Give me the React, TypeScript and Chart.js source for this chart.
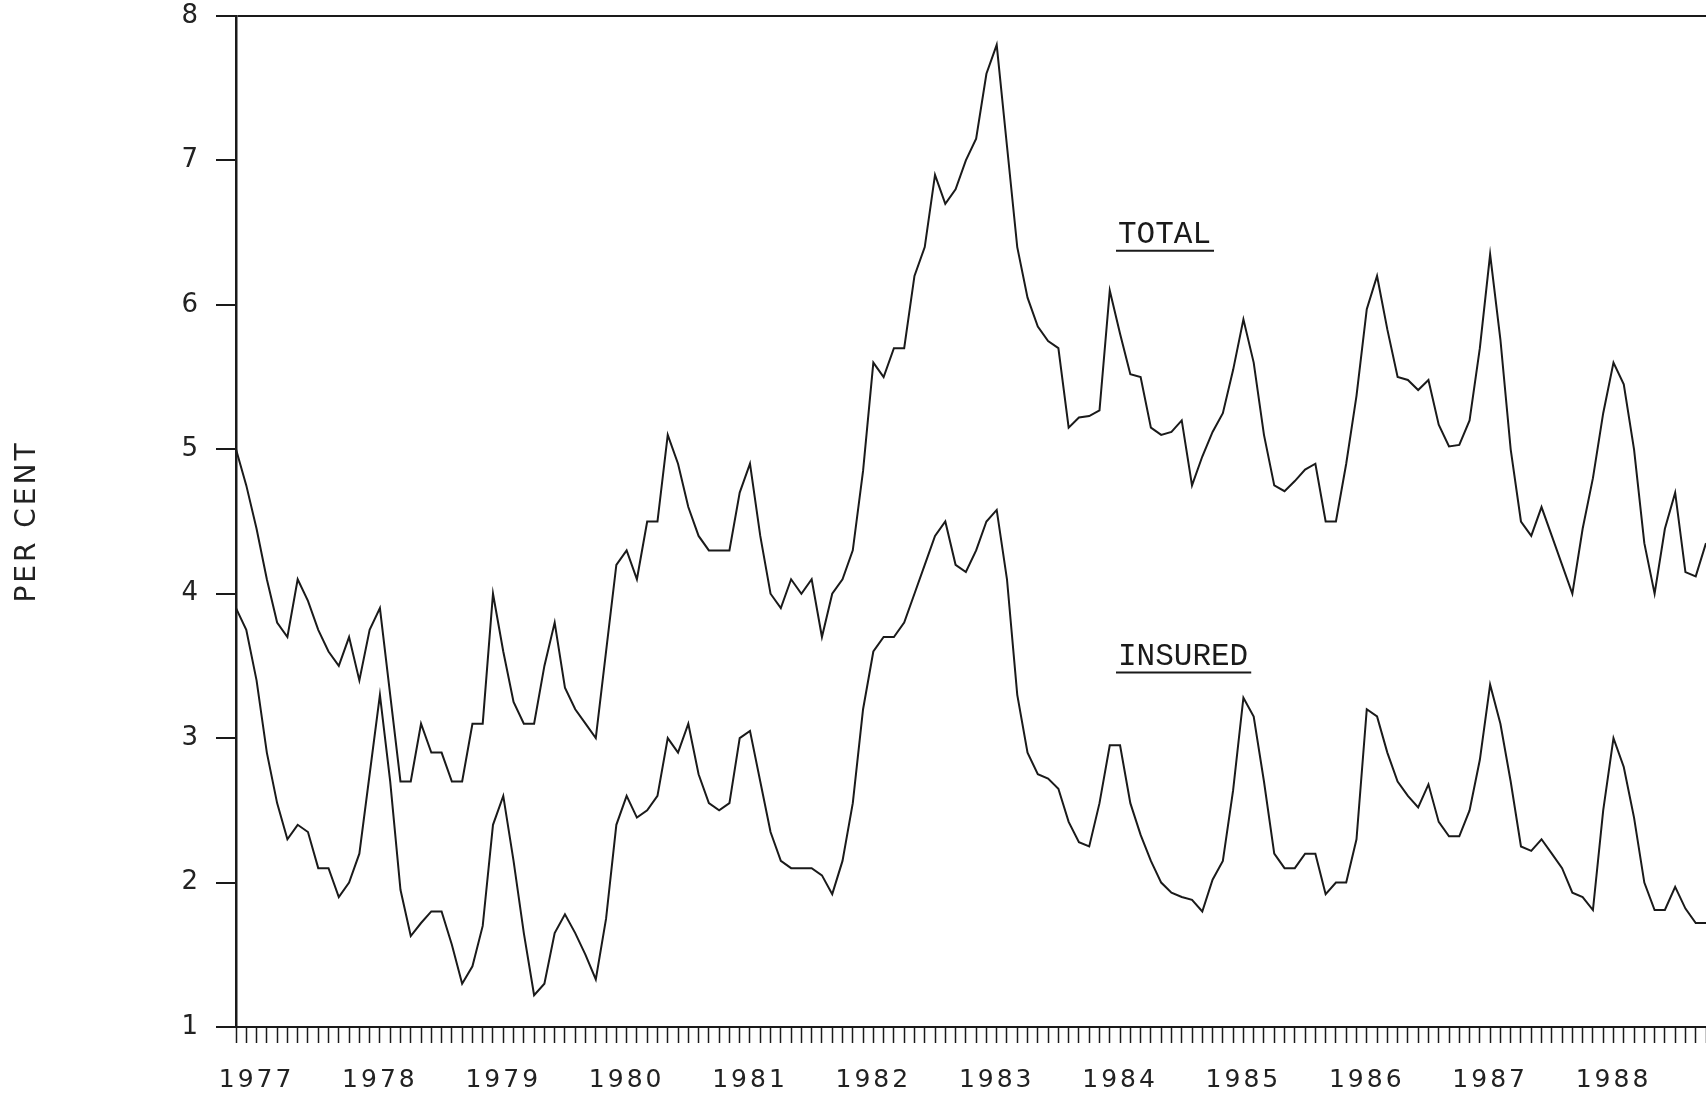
import React, { useEffect, useRef } from 'react';
import { Chart, registerables } from 'chart.js';

Chart.register(...registerables);

// ---- data (monthly, Jan 1977 – Dec 1988) ----
const years = ['1977', '1978', '1979', '1980', '1981', '1982', '1983', '1984', '1985', '1986', '1987', '1988'];
const monthNames = ['Jan', 'Feb', 'Mar', 'Apr', 'May', 'Jun', 'Jul', 'Aug', 'Sep', 'Oct', 'Nov', 'Dec'];
const monthLabels = years.flatMap((y) => monthNames.map((m) => `${m} ${y}`));

const totalRate = [
  5.0, 4.75, 4.45, 4.1, 3.8, 3.7, 4.1, 3.95, 3.75, 3.6, 3.5, 3.7,
  3.4, 3.75, 3.9, 3.3, 2.7, 2.7, 3.1, 2.9, 2.9, 2.7, 2.7, 3.1,
  3.1, 4.0, 3.6, 3.25, 3.1, 3.1, 3.5, 3.8, 3.35, 3.2, 3.1, 3.0,
  3.6, 4.2, 4.3, 4.1, 4.5, 4.5, 5.1, 4.9, 4.6, 4.4, 4.3, 4.3,
  4.3, 4.7, 4.9, 4.4, 4.0, 3.9, 4.1, 4.0, 4.1, 3.7, 4.0, 4.1,
  4.3, 4.85, 5.6, 5.5, 5.7, 5.7, 6.2, 6.4, 6.9, 6.7, 6.8, 7.0,
  7.15, 7.6, 7.8, 7.1, 6.4, 6.05, 5.85, 5.75, 5.7, 5.15, 5.22, 5.23,
  5.27, 6.1, 5.8, 5.52, 5.5, 5.15, 5.1, 5.12, 5.2, 4.75, 4.95, 5.12,
  5.25, 5.55, 5.9, 5.6, 5.1, 4.75, 4.71, 4.78, 4.86, 4.9, 4.5, 4.5,
  4.9, 5.37, 5.97, 6.2, 5.83, 5.5, 5.48, 5.41, 5.48, 5.17, 5.02, 5.03,
  5.2, 5.7, 6.35, 5.76, 5.0, 4.5, 4.4, 4.6, 4.4, 4.2, 4.0, 4.45,
  4.8, 5.25, 5.6, 5.45, 5.0, 4.35, 4.0, 4.45, 4.7, 4.15, 4.12, 4.35,
];

const insuredRate = [
  3.9, 3.75, 3.4, 2.9, 2.55, 2.3, 2.4, 2.35, 2.1, 2.1, 1.9, 2.0,
  2.2, 2.75, 3.3, 2.7, 1.95, 1.63, 1.72, 1.8, 1.8, 1.57, 1.3, 1.42,
  1.7, 2.4, 2.6, 2.15, 1.65, 1.22, 1.3, 1.65, 1.78, 1.65, 1.5, 1.33,
  1.75, 2.4, 2.6, 2.45, 2.5, 2.6, 3.0, 2.9, 3.1, 2.75, 2.55, 2.5,
  2.55, 3.0, 3.05, 2.7, 2.35, 2.15, 2.1, 2.1, 2.1, 2.05, 1.92, 2.15,
  2.55, 3.2, 3.6, 3.7, 3.7, 3.8, 4.0, 4.2, 4.4, 4.5, 4.2, 4.15,
  4.3, 4.5, 4.58, 4.1, 3.3, 2.9, 2.75, 2.72, 2.65, 2.42, 2.28, 2.25,
  2.55, 2.95, 2.95, 2.55, 2.33, 2.15, 2.0, 1.93, 1.9, 1.88, 1.8, 2.02,
  2.15, 2.64, 3.28, 3.15, 2.7, 2.2, 2.1, 2.1, 2.2, 2.2, 1.92, 2.0,
  2.0, 2.3, 3.2, 3.15, 2.9, 2.7, 2.6, 2.52, 2.68, 2.42, 2.32, 2.32,
  2.5, 2.85, 3.37, 3.1, 2.7, 2.25, 2.22, 2.3, 2.2, 2.1, 1.93, 1.9,
  1.81, 2.5, 3.0, 2.8, 2.45, 2.0, 1.81, 1.81, 1.97, 1.82, 1.72, 1.72,
];

const yTickValues = [1, 2, 3, 4, 5, 6, 7, 8];
const yearLabelMonth = 2; // month within each year under which the year is printed

// series name labels, anchored in data coordinates (month index, per cent)
const seriesNames = ['TOTAL', 'INSURED'];
const seriesNameMonth = [85.8, 85.8];
const seriesNameValue = [6.485, 3.565];

const INK = '#1a1a1a';

const spacingPlugin = {
  id: 'axisLetterSpacing',
  beforeDraw(chart: any) {
    chart.ctx.letterSpacing = '3px';
  },
  beforeDatasetsDraw(chart: any) {
    chart.ctx.letterSpacing = '0px';
  },
};

const seriesNamePlugin = {
  id: 'seriesNames',
  afterDatasetsDraw(chart: any) {
    const { ctx } = chart;
    const xs = chart.scales.x;
    const ys = chart.scales.y;
    ctx.save();
    ctx.letterSpacing = '0px';
    ctx.font = '31px "Liberation Mono"';
    ctx.fillStyle = INK;
    ctx.strokeStyle = INK;
    ctx.textAlign = 'left';
    ctx.textBaseline = 'middle';
    seriesNames.forEach((name, i) => {
      const px = xs.getPixelForValue(seriesNameMonth[i]);
      const py = ys.getPixelForValue(seriesNameValue[i]);
      ctx.fillText(name, px, py);
      const w = ctx.measureText(name).width;
      ctx.beginPath();
      ctx.lineWidth = 2;
      ctx.moveTo(px - 2, py + 16);
      ctx.lineTo(px + w + 3, py + 16);
      ctx.stroke();
    });
    ctx.restore();
  },
};

export default function App() {
  const canvasRef = useRef<HTMLCanvasElement | null>(null);

  useEffect(() => {
    const canvas = canvasRef.current;
    if (!canvas) return;
    const chart = new Chart(canvas, {
      type: 'line',
      data: {
        labels: monthLabels,
        datasets: [
          {
            label: 'Total',
            data: totalRate,
            borderColor: INK,
            borderWidth: 2,
            pointRadius: 0,
            tension: 0,
            fill: false,
          },
          {
            label: 'Insured',
            data: insuredRate,
            borderColor: INK,
            borderWidth: 2,
            pointRadius: 0,
            tension: 0,
            fill: false,
          },
        ],
      },
      options: {
        animation: false,
        responsive: false,
        devicePixelRatio: 1,
        layout: { padding: { top: 16, left: 0, right: 0, bottom: 0 } },
        plugins: {
          legend: { display: false },
          tooltip: { enabled: false },
        },
        events: [],
        scales: {
          x: {
            type: 'category',
            offset: false,
            grid: {
              display: true,
              drawOnChartArea: false,
              drawTicks: true,
              tickLength: 16,
              tickColor: INK,
              tickWidth: 1.5,
              offset: false,
            },
            border: { display: true, color: INK, width: 2 },
            ticks: {
              autoSkip: false,
              maxRotation: 0,
              minRotation: 0,
              padding: 22,
              color: '#222',
              font: { family: 'DejaVu Sans', size: 25 },
              callback: (_v: any, i: number) =>
                i % 12 === yearLabelMonth ? years[Math.floor(i / 12)] : '',
            },
            afterFit: (s: any) => {
              s.height = 67;
              s.paddingLeft = 0;
              s.paddingRight = 0;
            },
          },
          y: {
            type: 'linear',
            min: 1,
            max: 8,
            afterBuildTicks: (s: any) => {
              s.ticks = yTickValues.map((v) => ({ value: v }));
            },
            grid: {
              display: true,
              drawOnChartArea: true,
              color: (c: any) => (c.tick && c.tick.value === 8 ? INK : 'rgba(0,0,0,0)'),
              lineWidth: 2,
              tickLength: 20,
              tickColor: INK,
              tickWidth: 2,
            },
            border: { display: true, color: INK, width: 2.5 },
            ticks: {
              padding: 15,
              color: '#222',
              font: { family: 'DejaVu Sans', size: 26 },
            },
            title: {
              display: true,
              text: 'PER CENT',
              color: '#222',
              font: { family: 'DejaVu Sans', size: 28 },
              padding: { top: 11, bottom: 0 },
            },
            afterFit: (s: any) => {
              s.width = 236;
              s.paddingTop = 0;
              s.paddingBottom = 0;
            },
          },
        },
      },
      plugins: [spacingPlugin, seriesNamePlugin],
    } as any);
    return () => chart.destroy();
  }, []);

  return (
    <div style={{ position: 'fixed', left: 0, top: 0, width: 1706, height: 1094, background: '#fff' }}>
      <canvas ref={canvasRef} width={1706} height={1094} style={{ display: 'block', width: 1706, height: 1094 }} />
    </div>
  );
}
